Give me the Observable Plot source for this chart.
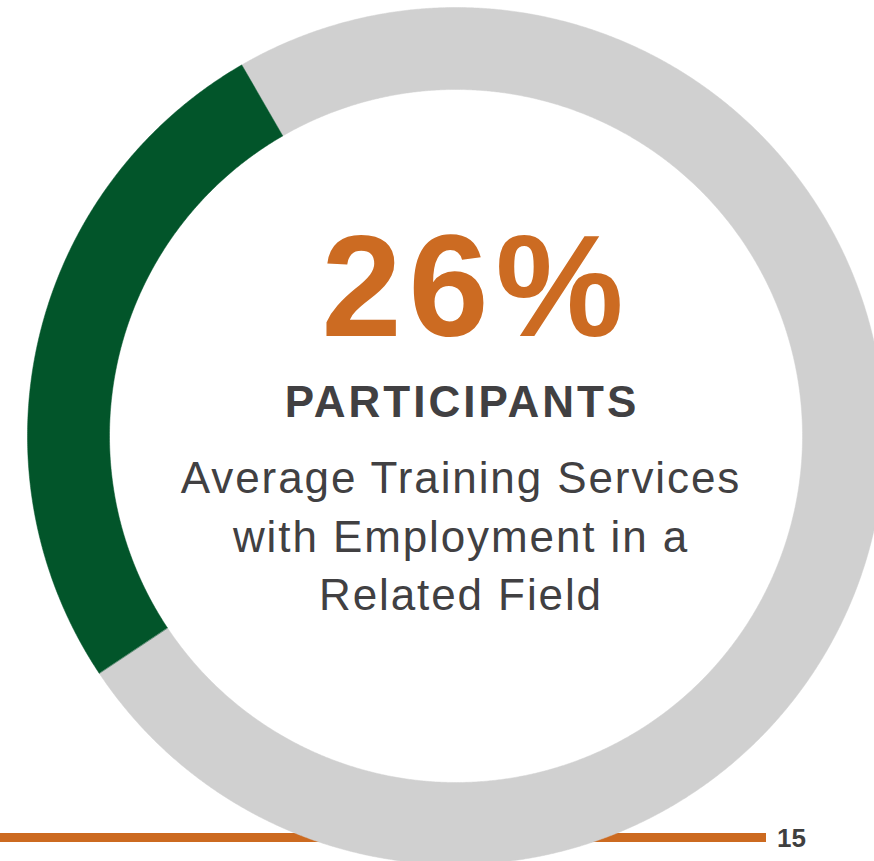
<!DOCTYPE html>
<html>
<head>
<meta charset="utf-8">
<script src="https://cdn.jsdelivr.net/npm/d3@7"></script>
<script src="https://cdn.jsdelivr.net/npm/@observablehq/plot@0.6"></script>
<style>
  html, body { margin: 0; padding: 0; background: #ffffff; }
  #wrap { position: relative; width: 874px; height: 861px; overflow: hidden; }
  #footer-rule { position: absolute; left: 0; top: 833px; width: 766px; height: 9px; background: #CC6A20; z-index: 0; }
  #page-num { position: absolute; left: 777px; top: 825px; font: 700 26px "Liberation Sans", Arial, sans-serif; line-height: 1; color: #3f3f3f; z-index: 2; }
  #chart { position: absolute; left: 0; top: 0; z-index: 1; }
</style>
</head>
<body>
<div id="wrap">
  <div id="footer-rule"></div>
  <div id="chart"></div>
  <div id="page-num"></div>
</div>
<script>
// ---- Data ----
const categories = ["Other", "Employment in a Related Field"];
const shares = [74, 26];
const sliceColors = ["#D0D0D0", "#02552A"];
const headline = "26%";
const label = "PARTICIPANTS";
const description = ["Average Training Services", "with Employment in a", "Related Field"];
const pageNumber = "15";

// ---- Layout ----
const W = 874, H = 861;
const cx = 455.5, cy = 435.5, R = 428.5;   // donut centre & outer radius (px)
const innerRatio = 346.5 / 428.5;
const startDeg = -30;                        // clockwise from 12 o'clock

// Build ring polygons from the shares (angles derived from values)
const total = d3.sum(shares);
const ring = [];
let acc = 0;
categories.forEach((cat, i) => {
  const a0 = (startDeg + acc / total * 360) * Math.PI / 180;
  acc += shares[i];
  const a1 = (startDeg + acc / total * 360) * Math.PI / 180;
  const n = Math.max(2, Math.ceil((a1 - a0) / (Math.PI / 720)));
  const outer = [], inner = [];
  for (let k = 0; k <= n; k++) {
    const a = a0 + (a1 - a0) * k / n;
    outer.push({cat, x: Math.sin(a), y: Math.cos(a)});
    inner.push({cat, x: innerRatio * Math.sin(a), y: innerRatio * Math.cos(a)});
  }
  ring.push(...outer, ...inner.reverse());
});

const font = "'Liberation Sans', Arial, Helvetica, sans-serif";

const chart = Plot.plot({
  width: W,
  height: H,
  margin: 0,
  style: {background: "transparent", overflow: "visible"},
  x: {domain: [-cx / R, (W - cx) / R], axis: null},
  y: {domain: [-(H - cy) / R, cy / R], axis: null},
  color: {domain: categories, range: sliceColors},
  marks: [
    Plot.line(ring, {x: "x", y: "y", z: "cat", fill: "cat", stroke: "cat", strokeWidth: 0.5, curve: "linear-closed"}),
    Plot.text([headline], {x: 0, y: 0, text: d => d, dx: 20, dy: -202.7, lineAnchor: "top",
      fontSize: 144, fontWeight: 700, fill: "#CC6B22", fontFamily: font}),
    Plot.text([label], {x: 0, y: 0, text: d => d, dx: 6, dy: -50.5, lineAnchor: "top",
      fontSize: 44, fontWeight: 700, fill: "#414042", fontFamily: font}),
    Plot.text([description.join("\n")], {x: 0, y: 0, text: d => d, dx: 5, dy: 15.6, lineAnchor: "top",
      lineHeight: 1.33, fontSize: 44, fontWeight: 400, fill: "#414042", fontFamily: font})
  ]
});

// letter-spacing for the three text marks, in mark order
const spacing = [7, 3, 1.9];
d3.select(chart).selectAll('g[aria-label="text"]').each(function(d, i) {
  d3.select(this).selectAll("text").style("letter-spacing", spacing[i] + "px");
});

document.getElementById("chart").appendChild(chart);
document.getElementById("page-num").textContent = pageNumber;
</script>
</body>
</html>
